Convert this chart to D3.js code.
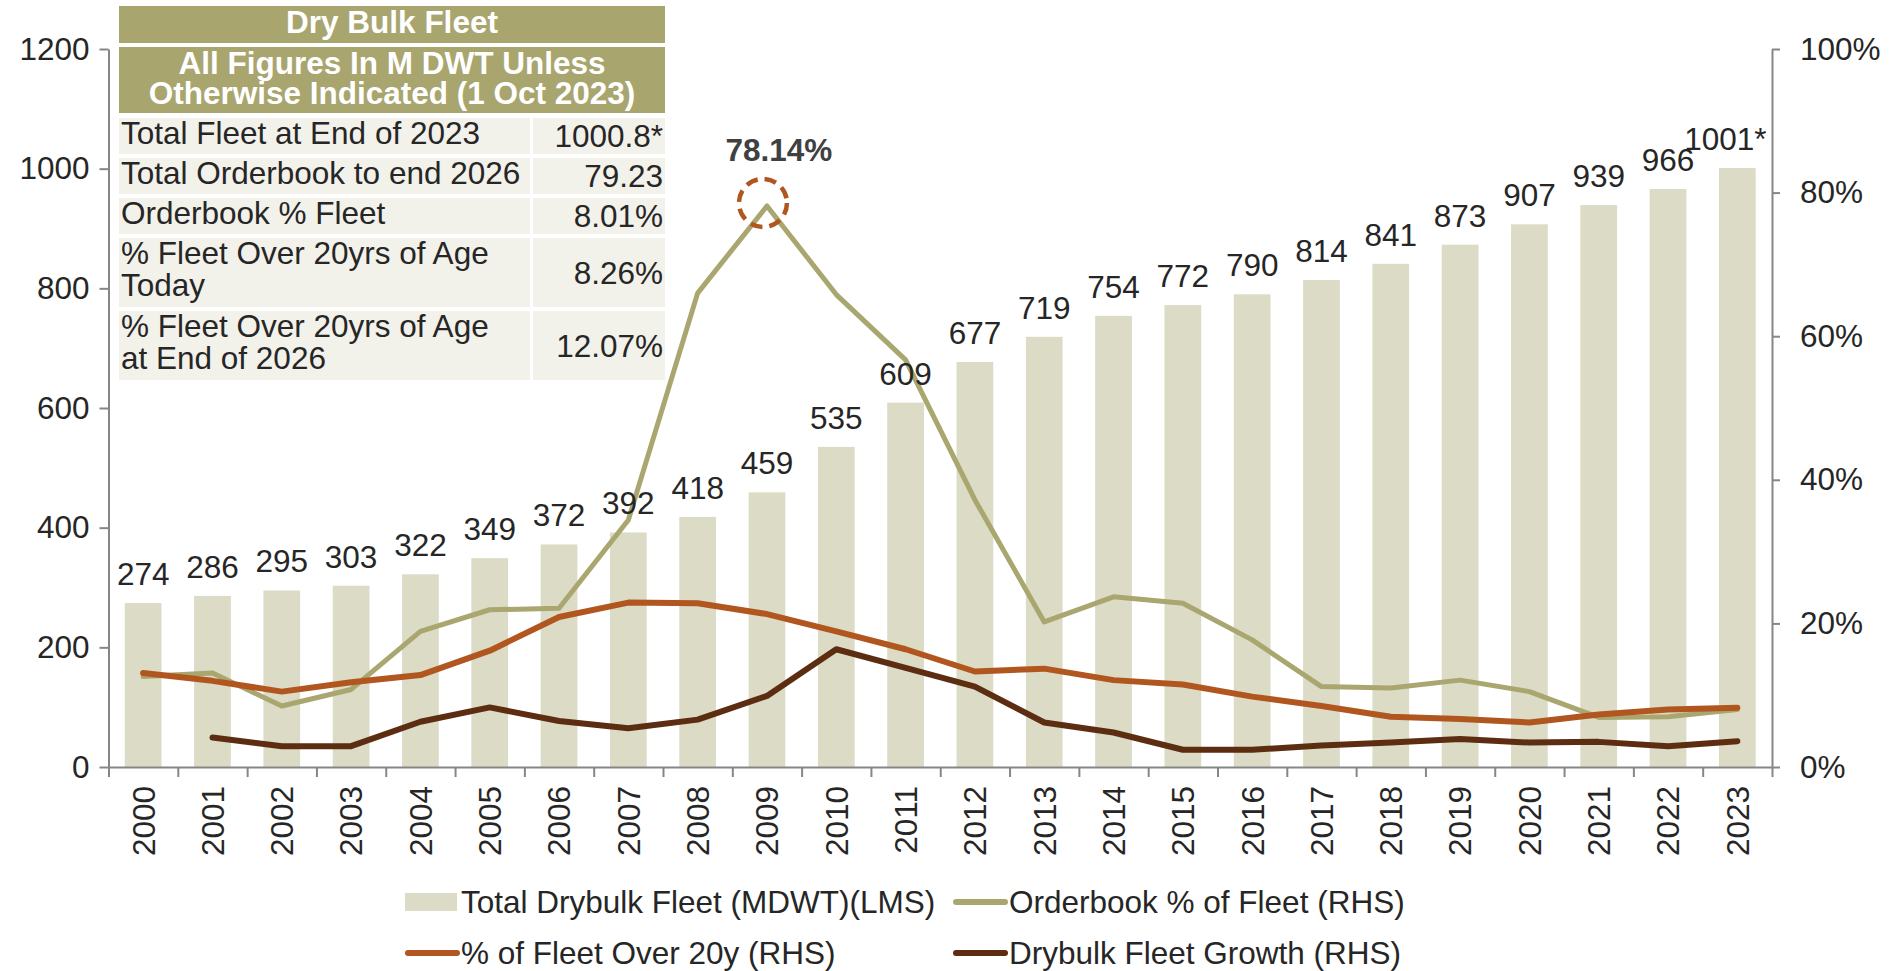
<!DOCTYPE html>
<html>
<head>
<meta charset="utf-8">
<script src="https://cdn.jsdelivr.net/npm/d3@7/dist/d3.min.js"></script>
<style>
    html, body { margin: 0; padding: 0; background: #fff; }
    svg text { font-family: "Liberation Sans", Arial, sans-serif; }
</style>
</head>
<body>
<svg id="chart" width="1900" height="971"></svg>
<script>
var years      = ['2000','2001','2002','2003','2004','2005','2006','2007','2008','2009','2010','2011',
                  '2012','2013','2014','2015','2016','2017','2018','2019','2020','2021','2022','2023'];
var fleet      = [274, 286, 295, 303, 322, 349, 372, 392, 418, 459, 535, 609,
                  677, 719, 754, 772, 790, 814, 841, 873, 907, 939, 966, 1001];
var fleetLabel = ['274','286','295','303','322','349','372','392','418','459','535','609',
                  '677','719','754','772','790','814','841','873','907','939','966','1001*'];
var orderbook  = [12.6, 13.1, 8.5, 10.8, 18.9, 21.9, 22.1, 34.4, 66.0, 78.14, 65.8, 56.7,
                  37.2, 20.2, 23.7, 22.8, 17.7, 11.2, 11.0, 12.1, 10.5, 6.9, 7.0, 8.01];
var over20     = [13.1, 12.0, 10.5, 11.8, 12.8, 16.2, 20.9, 22.9, 22.8, 21.3, 18.9, 16.4,
                  13.3, 13.7, 12.1, 11.5, 9.8, 8.5, 7.0, 6.7, 6.2, 7.3, 8.0, 8.26];
var growth     = [null, 4.1, 2.9, 2.9, 6.3, 8.3, 6.4, 5.4, 6.6, 9.9, 16.4, 13.8,
                  11.2, 6.2, 4.8, 2.4, 2.4, 3.0, 3.4, 3.9, 3.4, 3.5, 2.9, 3.6];
var leftTicks  = [0, 200, 400, 600, 800, 1000, 1200];
var rightTicks = [0, 20, 40, 60, 80, 100];

var tableTitle    = 'Dry Bulk Fleet';
var tableSubtitle = ['All Figures In M DWT Unless', 'Otherwise Indicated (1 Oct 2023)'];
var tableLabels   = [['Total Fleet at End of 2023'], ['Total Orderbook to end 2026'], ['Orderbook % Fleet'],
                     ['% Fleet Over 20yrs of Age', 'Today'], ['% Fleet Over 20yrs of Age', 'at End of 2026']];
var tableValues   = ['1000.8*', '79.23', '8.01%', '8.26%', '12.07%'];

var peakYear  = '2009';
var peakLabel = '78.14%';

var colors = {
    bar:    '#dcdbc6',
    olive:  '#a9a66f',
    orange: '#b2561f',
    brown:  '#5c2d11',
    header: '#a9a56f',
    cell:   '#f2f1ea',
    axis:   '#868686',
    text:   '#262626'
};

var font = 31.5;
var plot = { left: 108.5, right: 1772, top: 49, bottom: 767 };

var svg = d3.select('#chart');

var x = d3.scaleBand()
    .domain(years)
    .range([plot.left, plot.right])
    .paddingInner(0.47)
    .paddingOuter(0.235)
;
var yL = d3.scaleLinear().domain([0, 1200]).range([plot.bottom, plot.top]);
var yR = d3.scaleLinear().domain([0, 100]).range([plot.bottom, plot.top]);
var cx = d => x(d) + x.bandwidth() / 2;

// bars
svg.append('g').selectAll('rect')
    .data(fleet)
    .enter().append('rect')
    .attr('x', (v, i) => x(years[i]))
    .attr('y', v => yL(v))
    .attr('width', x.bandwidth())
    .attr('height', v => yL(0) - yL(v))
    .attr('fill', colors.bar)
;

// axes
var leftAxis = svg.append('g')
    .attr('transform', `translate(${ plot.left }, 0)`)
    .call(d3.axisLeft(yL).tickValues(leftTicks).tickSize(9).tickSizeOuter(0).tickPadding(10).tickFormat(d3.format('d')))
;
var rightAxis = svg.append('g')
    .attr('transform', `translate(${ plot.right }, 0)`)
    .call(d3.axisRight(yR).tickValues(rightTicks).tickSize(8).tickSizeOuter(0).tickPadding(20).tickFormat(d => d + '%'))
;
var edges = d3.scaleLinear().domain([0, years.length]).range([plot.left, plot.right]);
var bottomAxis = svg.append('g')
    .attr('transform', `translate(0, ${ plot.bottom })`)
    .call(d3.axisBottom(edges).tickValues(d3.range(years.length + 1)).tickSize(10).tickSizeOuter(0).tickFormat(''))
;
[leftAxis, rightAxis, bottomAxis].forEach(g => {
    g.selectAll('path, line').attr('stroke', colors.axis).attr('stroke-width', 2);
    g.selectAll('text').attr('fill', colors.text).style('font-size', font + 'px').style('font-family', '"Liberation Sans", Arial, sans-serif');
});

svg.append('g').selectAll('text')
    .data(years)
    .enter().append('text')
    .attr('transform', d => `translate(${ cx(d) }, ${ plot.bottom + 19 }) rotate(-90)`)
    .attr('text-anchor', 'end')
    .attr('dy', '0.36em')
    .attr('fill', colors.text)
    .style('font-size', font + 'px')
    .text(d => d)
;

// lines
var line = d3.line()
    .defined(d => d.v !== null)
    .x(d => cx(d.year))
    .y(d => yR(d.v))
;
[[orderbook, colors.olive, 5], [over20, colors.orange, 6], [growth, colors.brown, 6]].forEach(s => {
    svg.append('path')
        .datum(s[0].map((v, i) => ({ year: years[i], v: v })))
        .attr('d', line)
        .attr('fill', 'none')
        .attr('stroke', s[1])
        .attr('stroke-width', s[2])
        .attr('stroke-linejoin', 'round')
        .attr('stroke-linecap', 'round')
    ;
});

// bar value labels
svg.append('g').selectAll('text')
    .data(fleet)
    .enter().append('text')
    .attr('x', (v, i) => cx(years[i]) - (i === years.length - 1 ? 12 : 0))
    .attr('y', v => yL(v) - 18)
    .attr('text-anchor', 'middle')
    .attr('fill', colors.text)
    .style('font-size', font + 'px')
    .text((v, i) => fleetLabel[i])
;

// peak annotation
var peakValue = orderbook[years.indexOf(peakYear)];
svg.append('circle')
    .attr('cx', cx(peakYear) - 4)
    .attr('cy', yR(peakValue) - 3)
    .attr('r', 24)
    .attr('fill', 'none')
    .attr('stroke', colors.orange)
    .attr('stroke-width', 4.5)
    .attr('stroke-dasharray', '12,7')
;
svg.append('text')
    .attr('x', cx(peakYear) + 12)
    .attr('y', yR(peakValue) - 45)
    .attr('text-anchor', 'middle')
    .attr('fill', '#404040')
    .style('font-size', font + 'px')
    .style('font-weight', 'bold')
    .text(peakLabel)
;

// table
var table = { left: 119, split: 530, right: 665, gap: 3 };
var tg = svg.append('g');
var header = tg.append('g');
header.append('rect')
    .attr('x', table.left).attr('y', 6)
    .attr('width', table.right - table.left).attr('height', 37)
    .attr('fill', colors.header)
;
header.append('rect')
    .attr('x', table.left).attr('y', 47)
    .attr('width', table.right - table.left).attr('height', 66)
    .attr('fill', colors.header)
;
header.selectAll('text')
    .data([tableTitle].concat(tableSubtitle))
    .enter().append('text')
    .attr('x', (table.left + table.right) / 2)
    .attr('y', (d, i) => [33, 74, 104][i])
    .attr('text-anchor', 'middle')
    .attr('fill', '#fff')
    .style('font-size', font + 'px')
    .style('font-weight', 'bold')
    .text(d => d)
;

var rowTop = 118;
tableLabels.forEach((lines, i) => {
    var h = lines.length === 1 ? 36 : 69;
    var row = tg.append('g').attr('transform', `translate(0, ${ rowTop })`);

    row.append('rect')
        .attr('x', table.left).attr('width', table.split - table.left)
        .attr('height', h).attr('fill', colors.cell)
    ;
    row.append('rect')
        .attr('x', table.split + table.gap).attr('width', table.right - table.split - table.gap)
        .attr('height', h).attr('fill', colors.cell)
    ;
    row.selectAll('text.label')
        .data(lines)
        .enter().append('text')
        .attr('class', 'label')
        .attr('x', table.left + 2)
        .attr('y', (d, j) => 26 + j * 32)
        .attr('fill', colors.text)
        .style('font-size', font + 'px')
        .text(d => d)
    ;
    row.append('text')
        .attr('x', table.right - 2)
        .attr('y', h / 2 + 11)
        .attr('text-anchor', 'end')
        .attr('fill', colors.text)
        .style('font-size', font + 'px')
        .text(tableValues[i])
    ;
    rowTop += h + 4;
});

// legend
var legendItems = [
    { name: 'Total Drybulk Fleet (MDWT)(LMS)', color: colors.bar,    type: 'bar',  x: 405, y: 902 },
    { name: 'Orderbook % of Fleet (RHS)',      color: colors.olive,  type: 'line', x: 953, y: 902 },
    { name: '% of Fleet Over 20y (RHS)',       color: colors.orange, type: 'line', x: 405, y: 953 },
    { name: 'Drybulk Fleet Growth (RHS)',      color: colors.brown,  type: 'line', x: 953, y: 953 }
];
var legend = svg.append('g').selectAll('g')
    .data(legendItems)
    .enter().append('g')
    .attr('transform', d => `translate(${ d.x }, ${ d.y })`)
    .each(function (d) {
        var _this = d3.select(this);

        if (d.type === 'bar') {
            _this.append('rect')
                .attr('x', 0).attr('y', -9)
                .attr('width', 52).attr('height', 18)
                .attr('fill', d.color)
            ;
        } else {
            _this.append('line')
                .attr('x1', 3).attr('x2', 52)
                .attr('stroke', d.color)
                .attr('stroke-width', 6)
                .attr('stroke-linecap', 'round')
            ;
        }

        _this.append('text')
            .attr('x', 56)
            .attr('dy', '0.36em')
            .attr('fill', colors.text)
            .style('font-size', font + 'px')
            .text(d.name)
        ;
    })
;
</script>
</body>
</html>
